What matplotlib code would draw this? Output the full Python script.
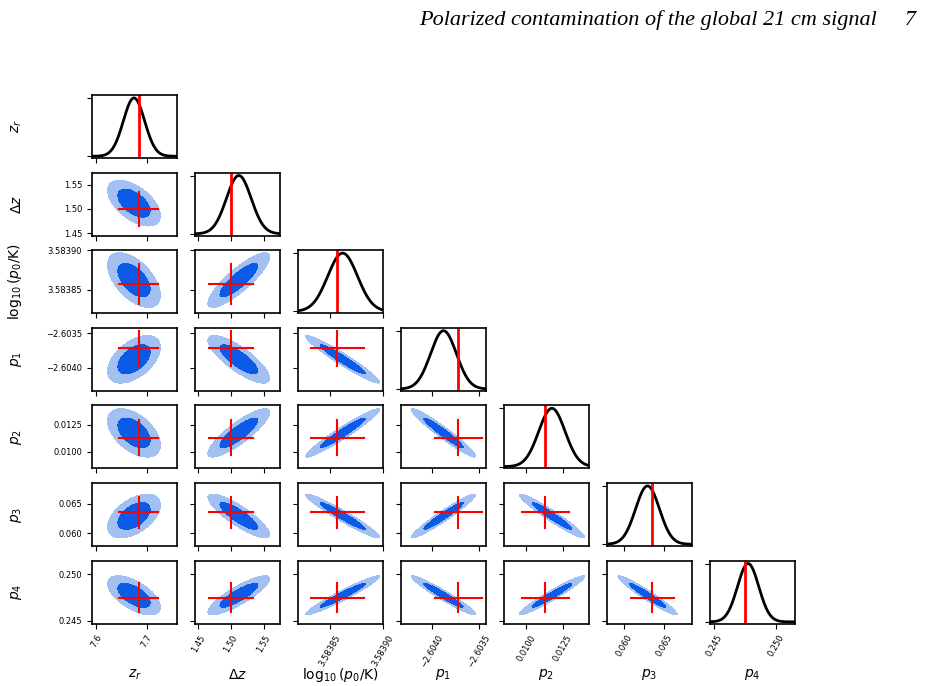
import numpy as np
import matplotlib
matplotlib.use("Agg")
import matplotlib.pyplot as plt

labels = [r"$z_r$", r"$\Delta z$", r"$\log_{10}(p_0/\mathrm{K})$", r"$p_1$", r"$p_2$", r"$p_3$", r"$p_4$"]
means = [7.675, 1.512, 3.583862, -2.60388, 0.01175, 0.0629, 0.24775]
sigmas = [0.021, 0.019, 0.000014, 0.00014, 0.0009, 0.0015, 0.00085]
truths = [7.684, 1.500, 3.583857, -2.60372, 0.0113, 0.0635, 0.2475]
ranges = [(7.592, 7.76), (1.445, 1.575), (3.58382, 3.58390), (-2.60434, -2.60342),
          (0.00847, 0.01429), (0.0578, 0.0685), (0.2447, 0.2515)]
ticks = [[7.6, 7.7], [1.45, 1.50, 1.55], [3.58385, 3.58390], [-2.6040, -2.6035],
         [0.0100, 0.0125], [0.060, 0.065], [0.245, 0.250]]
ticklabels = [["7.6", "7.7"], ["1.45", "1.50", "1.55"], ["3.58385", "3.58390"],
              ["\u22122.6040", "\u22122.6035"], ["0.0100", "0.0125"], ["0.060", "0.065"],
              ["0.245", "0.250"]]
corr = np.array([
    [1.00, -0.55, -0.55, 0.50, -0.50, 0.50, -0.60],
    [-0.55, 1.00, 0.85, -0.80, 0.85, -0.85, 0.85],
    [-0.55, 0.85, 1.00, -0.96, 0.96, -0.96, 0.96],
    [0.50, -0.80, -0.96, 1.00, -0.96, 0.96, -0.96],
    [-0.50, 0.85, 0.96, -0.96, 1.00, -0.96, 0.96],
    [0.50, -0.85, -0.96, 0.96, -0.96, 1.00, -0.96],
    [-0.60, 0.85, 0.96, -0.96, 0.96, -0.96, 1.00],
])

n = len(labels)
W, H = 930, 686
fig = plt.figure(figsize=(W / 100, H / 100), dpi=100)
fig.text(0.985, 0.985, "Polarized contamination of the global 21 cm signal     7",
         ha="right", va="top", fontsize=16, style="italic", family="Liberation Serif")

left0, top0, pw, ph, dx, dy = 92, 95, 85, 63, 103, 77.6
light, dark = "#a3c0f3", "#0b5be8"

for i in range(n):
    for j in range(i + 1):
        x0 = left0 + j * dx
        y0 = top0 + i * dy
        ax = fig.add_axes([x0 / W, 1 - (y0 + ph) / H, pw / W, ph / H])
        if i == j:
            xs = np.linspace(*ranges[j], 300)
            ys = np.exp(-0.5 * ((xs - means[j]) / sigmas[j]) ** 2)
            ax.plot(xs, ys, color="k", lw=2)
            ax.axvline(truths[j], color="red", lw=2)
            ax.set_ylim(-0.03, 1.05)
            ax.set_yticks([0, 1])
            ax.set_yticklabels([])
        else:
            xs = np.linspace(*ranges[j], 200)
            ys = np.linspace(*ranges[i], 200)
            X, Y = np.meshgrid(xs, ys)
            sx, sy, r = sigmas[j], sigmas[i], corr[i, j]
            u = (X - means[j]) / sx
            v = (Y - means[i]) / sy
            chi2 = (u ** 2 - 2 * r * u * v + v ** 2) / (1 - r ** 2)
            ax.contourf(X, Y, chi2, levels=[2.3, 6.18], colors=[light])
            ax.contourf(X, Y, chi2, levels=[-1, 2.3], colors=[dark])
            ax.plot([truths[j] - 1.8 * sx, truths[j] + 1.8 * sx], [truths[i]] * 2, color="red", lw=1.5)
            ax.plot([truths[j]] * 2, [truths[i] - 1.8 * sy, truths[i] + 1.8 * sy], color="red", lw=1.5)
            ax.set_ylim(*ranges[i])
            ax.set_yticks(ticks[i])
            if j == 0:
                ax.set_yticklabels(ticklabels[i], fontsize=6)
            else:
                ax.set_yticklabels([])
        ax.set_xlim(*ranges[j])
        ax.set_xticks(ticks[j])
        if i == n - 1:
            ax.set_xticklabels(ticklabels[j], fontsize=6, rotation=60)
            fig.text((x0 + pw / 2) / W, 1 - 675 / H, labels[j], fontsize=10,
                     ha="center", va="center")
        else:
            ax.set_xticklabels([])
        if j == 0:
            ax.set_ylabel(labels[i], fontsize=10)
            ax.yaxis.set_label_coords(-0.8, 0.5)
        for s in ax.spines.values():
            s.set_linewidth(1.2)

fig.savefig("out.png", dpi=100)
